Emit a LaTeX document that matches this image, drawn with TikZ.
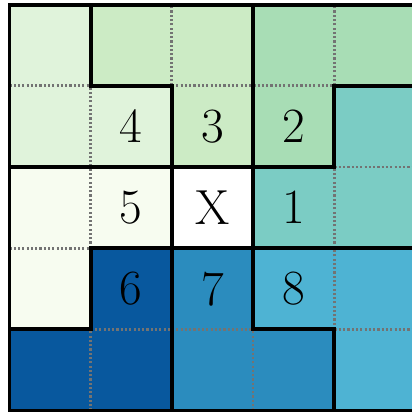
\documentclass[tikz,border=0pt]{standalone}
\usepackage{xcolor}
\usepackage{tikz}
\definecolor{gnbuA}{HTML}{F7FCF0}
\definecolor{gnbuB}{HTML}{E0F3DB}
\definecolor{gnbuC}{HTML}{CCEBC5}
\definecolor{gnbuD}{HTML}{A8DDB5}
\definecolor{gnbuE}{HTML}{7BCCC4}
\definecolor{gnbuF}{HTML}{4EB3D3}
\definecolor{gnbuG}{HTML}{2B8CBE}
\definecolor{gnbuH}{HTML}{08589E}

\begin{document}
\begin{tikzpicture}[
  cell/.style={rectangle, minimum size=1cm, inner sep=0pt, font=\LARGE},
  sep/.style={gray!90!black, line width=1pt, dash pattern=on 0.75pt off 0.75pt},
  wall/.style={black, line width=1.3pt, line cap=rect}
]
\useasboundingbox (-0.117,-0.019) rectangle (4.957,5.058);

% cells, row by row from the top: row/column/fill/text
\foreach \r/\c/\col/\txt in {
  0/0/gnbuB/, 0/1/gnbuC/, 0/2/gnbuC/, 0/3/gnbuD/, 0/4/gnbuD/,
  1/0/gnbuB/, 1/1/gnbuB/4, 1/2/gnbuC/3, 1/3/gnbuD/2, 1/4/gnbuE/,
  2/0/gnbuA/, 2/1/gnbuA/5, 2/2/white/X, 2/3/gnbuE/1, 2/4/gnbuE/,
  3/0/gnbuA/, 3/1/gnbuH/6, 3/2/gnbuG/7, 3/3/gnbuF/8, 3/4/gnbuF/,
  4/0/gnbuH/, 4/1/gnbuH/, 4/2/gnbuG/, 4/3/gnbuG/, 4/4/gnbuF/}
  \node[cell, fill=\col] (c-\r-\c) at (\c+0.5, 4.5-\r) {\txt};

% cell separators inside a group
\draw[sep] (0,0) grid (5,5);

% group boundaries
\draw[wall] (0,0) rectangle (5,5);
\draw[wall] (1,5) -- (1,4) -- (2,4) -- (2,0);
\draw[wall] (0,3) -- (4,3);
\draw[wall] (3,5) -- (3,1) -- (4,1) -- (4,0);
\draw[wall] (5,4) -- (4,4) -- (4,3);
\draw[wall] (5,2) -- (1,2) -- (1,1) -- (0,1);
\end{tikzpicture}
\end{document}
